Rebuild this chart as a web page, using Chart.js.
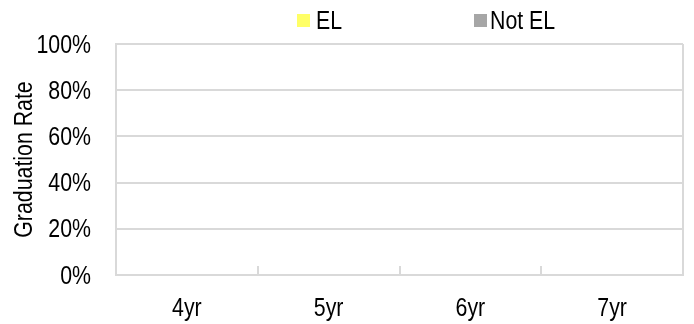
<!DOCTYPE html>
<html>
<head>
<meta charset="utf-8">
<script src="https://cdn.jsdelivr.net/npm/chart.js@4/dist/chart.umd.min.js"></script>
<style>
    html, body { margin: 0; padding: 0; background: #fff; }
    #wrap { width: 694px; height: 324px; }
</style>
</head>
<body>
<div id="wrap"><canvas id="grad-chart"></canvas></div>
<script>
    "use strict";

    // Data (no bars visible in the source chart)
    var categories = ["4yr", "5yr", "6yr", "7yr"];
    var elRates = [null, null, null, null];
    var notElRates = [null, null, null, null];
    var yTicks = [0, 20, 40, 60, 80, 100];

    var FONT = "26px 'Liberation Sans', Arial, sans-serif";
    var NARROW = 0.82;   // fake Arial Narrow by squeezing Liberation Sans
    var GRID = "#d9d9d9";

    function narrowText(ctx, text, x, y, align) {
        ctx.save();
        ctx.translate(x, y);
        ctx.scale(NARROW, 1);
        ctx.font = FONT;
        ctx.fillStyle = "#000";
        ctx.textAlign = align;
        ctx.textBaseline = "alphabetic";
        ctx.fillText(text, 0, 0);
        ctx.restore();
    }

    // Tick labels, axis title and legend in a condensed face
    var textPlugin = {
        id: "narrowText",
        afterDraw: function (chart) {
            var ctx = chart.ctx;
            var xs = chart.scales.x;
            var ys = chart.scales.y;
            var a = chart.chartArea;

            ys.ticks.forEach(function (t) {
                narrowText(ctx, t.value + "%", 91, ys.getPixelForValue(t.value) + 8.5, "right");
            });
            xs.ticks.forEach(function (t, i) {
                narrowText(ctx, categories[i], xs.getPixelForTick(i), 316, "center");
            });

            ctx.save();
            ctx.translate(32, (a.top + a.bottom) / 2);
            ctx.rotate(-Math.PI / 2);
            narrowText(ctx, "Graduation Rate", 0, 0, "center");
            ctx.restore();

            var items = [
                { box: 297, text: 316, ds: chart.data.datasets[0] },
                { box: 474, text: 490, ds: chart.data.datasets[1] }
            ];
            items.forEach(function (it) {
                ctx.fillStyle = it.ds.backgroundColor;
                ctx.fillRect(it.box, 14, 13, 13);
                narrowText(ctx, it.ds.label, it.text, 29, "left");
            });
        }
    };

    // Right border of the plot area
    var framePlugin = {
        id: "frame",
        beforeDatasetsDraw: function (chart) {
            var a = chart.chartArea;
            var ctx = chart.ctx;
            ctx.save();
            ctx.strokeStyle = GRID;
            ctx.lineWidth = 2;
            ctx.beginPath();
            ctx.moveTo(a.right, a.top);
            ctx.lineTo(a.right, a.bottom);
            ctx.stroke();
            ctx.restore();
        }
    };

    var ctx1 = document.getElementById("grad-chart").getContext("2d");
    var myChart1 = new Chart(ctx1, {
        type: "bar",
        data: {
            labels: categories,
            datasets: [{
                label: "EL",
                data: elRates,
                backgroundColor: "#ffff66"
            }, {
                label: "Not EL",
                data: notElRates,
                backgroundColor: "#a6a6a6"
            }]
        },
        options: {
            responsive: true,
            maintainAspectRatio: false,
            animation: false,
            layout: { padding: { top: 44, right: 11, left: 0, bottom: 0 } },
            plugins: {
                legend: { display: false },
                tooltip: { enabled: false }
            },
            scales: {
                x: {
                    afterFit: function (s) { s.height = 49; },
                    grid: {
                        drawOnChartArea: false,
                        tickLength: -9,
                        color: GRID,
                        lineWidth: 2
                    },
                    border: { color: GRID, width: 2 },
                    ticks: { display: false }
                },
                y: {
                    min: 0,
                    max: 100,
                    afterFit: function (s) { s.width = 116; },
                    afterBuildTicks: function (s) {
                        s.ticks = yTicks.map(function (v) { return { value: v }; });
                    },
                    grid: { color: GRID, lineWidth: 2, drawTicks: false },
                    border: { color: GRID, width: 2 },
                    ticks: { display: false }
                }
            }
        },
        plugins: [textPlugin, framePlugin]
    });
</script>
</body>
</html>
